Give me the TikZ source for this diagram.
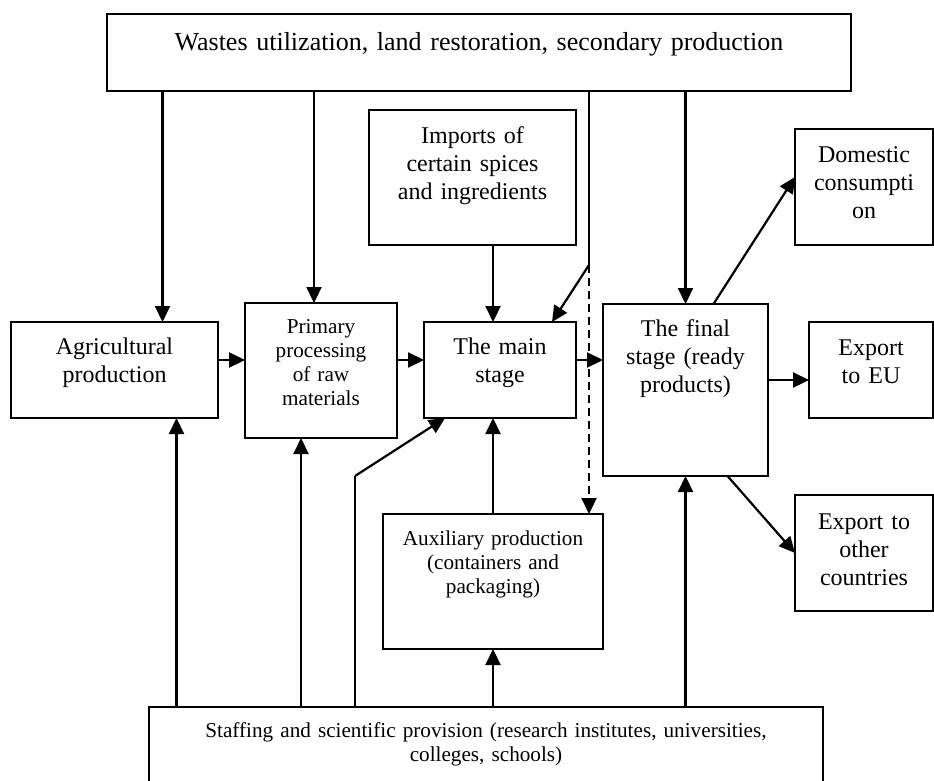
\documentclass[tikz,border=0pt]{standalone}
\usepackage{fontspec}
\setmainfont{Liberation Serif}
\usepackage{tikz}
\usetikzlibrary{arrows.meta}
\newcommand{\topfont}{\fontsize{26}{30}\selectfont}
\newcommand{\bigfont}{\fontsize{24}{28}\selectfont}
\newcommand{\smallfont}{\fontsize{21.2}{24}\selectfont}
\tikzset{
  box/.style={draw, line width=1.6pt, inner sep=0pt, outer sep=0pt,
    align=center, anchor=north west, font=\bigfont},
  small box/.style={box, font=\smallfont},
  link/.style={line width=1.5pt},
  arr/.style={line width=2.2pt, -{Triangle[length=16pt, width=15pt]}},
  dash arr/.style={arr, dash pattern=on 8pt off 5pt}
}

\begin{document}
\begin{tikzpicture}[x=1pt, y=-1pt]
    \useasboundingbox (0,0) rectangle (934,780);

    % boxes
    \node[box, font=\topfont, text width=744pt, text height=36pt, text depth=41pt] (waste) at (107,14)
        {Wastes utilization, land restoration, secondary production};
    \node[box, text width=207pt, text height=33pt, text depth=102pt] (imports) at (369,110)
        {Imports of\\certain spices\\and ingredients};
    \node[box, text width=138pt, text height=33pt, text depth=83pt] (domestic) at (795,129)
        {Domestic\\consumpti\\on};
    \node[box, text width=207pt, text height=32pt, text depth=64pt] (agri) at (11,322)
        {Agricultural\\production};
    \node[small box, text width=152pt, text height=30pt, text depth=105pt] (primary) at (245,303)
        {Primary\\processing\\of raw\\materials};
    \node[box, text width=152pt, text height=32pt, text depth=64pt] (main) at (424,322)
        {The main\\stage};
    \node[box, text width=165pt, text height=32pt, text depth=140pt] (final) at (603,304)
        {The final\\stage (ready\\products)};
    \node[box, text width=124pt, text height=33pt, text depth=63pt] (eu) at (809,322)
        {Export\\to EU};
    \node[box, text width=138pt, text height=34pt, text depth=82pt] (other) at (795,495)
        {Export to\\other\\countries};
    \node[small box, text width=220pt, text height=31pt, text depth=104pt] (aux) at (383,514)
        {Auxiliary production\\(containers and\\packaging)};
    \node[small box, text width=674pt, text height=30pt, text depth=53pt] (staff) at (149,707)
        {Staffing and scientific provision (research institutes, universities,\\colleges, schools)};

    \coordinate (split) at (589,265);
    \coordinate (bend) at (355,476);

    % from wastes
    \draw[arr] ([xshift=48pt]waste.south -| agri.north) -- ([xshift=48pt]agri.north);
    \draw[arr] ([xshift=-7pt]waste.south -| primary.north) -- ([xshift=-7pt]primary.north);
    \draw[arr] (waste.south -| final.north) -- (final.north);
    \draw[link] (waste.south -| split) -- (split);
    \draw[arr] (split) -- ([xshift=52pt]main.north);
    \draw[dash arr] (split) -- (aux.north -| split);
    \draw[arr] (imports.south -| aux.north) -- (main.north -| aux.north);

    % main chain
    \draw[arr] ([yshift=10pt]agri.east) -- ([yshift=10pt]agri.east -| primary.west);
    \draw[arr] ([yshift=10pt]main.west -| primary.east) -- ([yshift=10pt]main.west);
    \draw[arr] ([yshift=10pt]main.east) -- ([yshift=10pt]main.east -| final.west);
    \draw[arr] ([xshift=28pt]final.north) -- ([yshift=10pt]domestic.west);
    \draw[arr] ([yshift=-10pt]eu.west -| final.east) -- ([yshift=-10pt]eu.west);
    \draw[arr] ([xshift=42pt]final.south) -- (other.west);

    % from staffing
    \draw[arr] ([xshift=62pt]staff.north -| agri.south) -- ([xshift=62pt]agri.south);
    \draw[arr] ([xshift=-20pt]staff.north -| primary.south) -- ([xshift=-20pt]primary.south);
    \draw[link] (staff.north -| bend) -- (bend);
    \draw[arr] (bend) -- ([xshift=-55pt]main.south);
    \draw[arr] (staff.north -| aux.south) -- (aux.south);
    \draw[arr] (aux.north) -- (aux.north |- main.south);
    \draw[arr] (staff.north -| final.south) -- (final.south);
\end{tikzpicture}
\end{document}
